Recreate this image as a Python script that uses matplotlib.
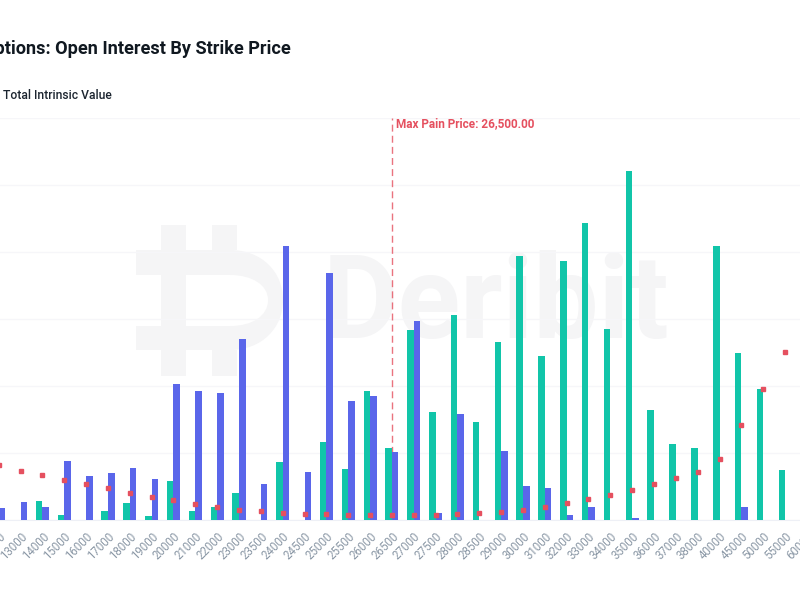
import matplotlib
matplotlib.use("Agg")
import numpy as np
import matplotlib.pyplot as plt
from matplotlib.path import Path
from matplotlib.patches import PathPatch
from matplotlib.transforms import Affine2D

plt.rcParams['font.family'] = ['Roboto', 'DejaVu Sans']

strikes = [12000, 13000, 14000, 15000, 16000, 17000, 18000, 19000, 20000, 21000,
           22000, 23000, 23500, 24000, 24500, 25000, 25500, 26000, 26500, 27000,
           27500, 28000, 28500, 29000, 30000, 31000, 32000, 33000, 34000, 35000,
           36000, 37000, 38000, 40000, 45000, 50000, 55000, 60000]

calls = [0, 0, 142, 37, 0, 67, 127, 30, 291, 67,
         97, 201, 0, 433, 0, 582, 381, 963, 537, 1418,
         806, 1530, 731, 1328, 1970, 1224, 1933, 2217, 1425, 2605,
         821, 567, 537, 2045, 1246, 978, 373, 0]

puts = [90, 134, 97, 440, 328, 351, 388, 306, 1015, 963,
        948, 1351, 269, 2045, 358, 1843, 888, 925, 507, 1485,
        52, 791, 0, 515, 254, 239, 37, 97, 0, 15,
        0, 0, 0, 0, 97, 0, 0, 0]

# intrinsic value, in millions
intrinsic = [82, 73, 67, 60, 54, 48, 40, 34, 30, 24,
             19, 15, 13, 10, 9, 9, 7.5, 7.5, 7.5, 7.5,
             7.5, 9, 10, 12, 15, 19, 25, 31, 37, 45,
             54, 63, 72, 91, 142, 196, 251, 309]

max_pain = 26500

GREEN = '#11c5a9'
BLUE = '#5a66ea'
RED = '#e5505f'
W, H = 800, 600

fig = plt.figure(figsize=(8, 6), dpi=100, facecolor='white')
# axes run past the picture on both sides, the chart is cropped
ax = fig.add_axes([-60 / W, 1 - 520 / H, 920 / W, 402 / H])
ax.patch.set_visible(False)

x = np.arange(len(strikes))
bw = 0.3
ax.bar(x - bw / 2, calls, bw, color=GREEN, zorder=3)
ax.bar(x + bw / 2, puts, bw, color=BLUE, zorder=3)
ax.axvline(strikes.index(max_pain), color=RED, lw=1.0, ls=(0, (5, 3)), alpha=0.8, zorder=2)
ax.annotate('Max Pain Price: 26,500.00', (strikes.index(max_pain), 1), xycoords=('data', 'axes fraction'),
            xytext=(3.2, -4.2), textcoords='offset points', color=RED, fontsize=8.5, fontweight='bold', va='center')

ax.set_xlim(-2.69, 39.43)
ax.set_ylim(0, 3000)
ax.set_yticks(np.arange(0, 3001, 500))
ax.set_yticklabels([])
ax.grid(axis='y', color='#f6f6f9', lw=1, zorder=0)
ax.set_axisbelow(True)
ax.set_xticks(x)
ax.set_xticklabels(strikes, rotation=45, ha='right', rotation_mode='anchor', fontsize=8.3, color='#8b98a6')
ax.tick_params(axis='x', length=0, pad=7)
ax.tick_params(axis='y', length=0)
for s in ax.spines.values():
    s.set_visible(False)
ax.spines['bottom'].set_visible(True)
ax.spines['bottom'].set_color('#eef0f6')

ax2 = ax.twinx()
ax2.patch.set_visible(False)
ax2.plot(x, intrinsic, ls='none', marker='s', ms=2.5, color=RED, zorder=4)
ax2.set_ylim(0, 600)
ax2.set_yticks([])
for s in ax2.spines.values():
    s.set_visible(False)

# watermark, in picture pixels
px = Affine2D().scale(1 / W, -1 / H).translate(0, 1) + fig.transFigure
M, L, C, Z = Path.MOVETO, Path.LINETO, Path.CURVE4, Path.CLOSEPOLY
logo_verts = [(136, 250), (230, 250), (262, 250), (283, 272), (283, 300), (283, 328), (262, 350), (230, 350),
              (136, 350), (136, 326), (161, 326), (161, 275), (136, 275), (136, 250),
              (186, 275), (186, 326), (230, 326), (252, 326), (268, 316), (268, 300), (268, 285), (252, 275),
              (230, 275), (186, 275)]
logo_codes = [M, L, C, C, C, C, C, C, L, L, L, L, L, Z,
              M, L, L, C, C, C, C, C, C, Z]
pale = '#f5f5f6'
fig.add_artist(PathPatch(Path(logo_verts, logo_codes), fc=pale, ec='none', transform=px, zorder=-1))
for (x0, x1, y0, y1) in [(161, 186, 225, 376), (212, 237, 225, 250), (212, 237, 350, 376)]:
    fig.add_artist(PathPatch(Path([(x0, y0), (x1, y0), (x1, y1), (x0, y1), (x0, y0)], [M, L, L, L, Z]),
                             fc=pale, ec='none', transform=px, zorder=-1))
fig.text(323, 338, 'Deribit', transform=px, fontsize=83.5, fontweight='bold', color=pale, ha='left', va='baseline', zorder=-1)

fig.text(290.5, 54, 'Options: Open Interest By Strike Price', transform=px, fontsize=13.05, fontweight='bold',
         color='#101820', ha='right', va='baseline')
fig.text(3, 99, 'Total Intrinsic Value', transform=px, fontsize=8.7, fontweight='medium', color='#1c2530',
         ha='left', va='baseline')

fig.savefig('out.png', dpi=100)
